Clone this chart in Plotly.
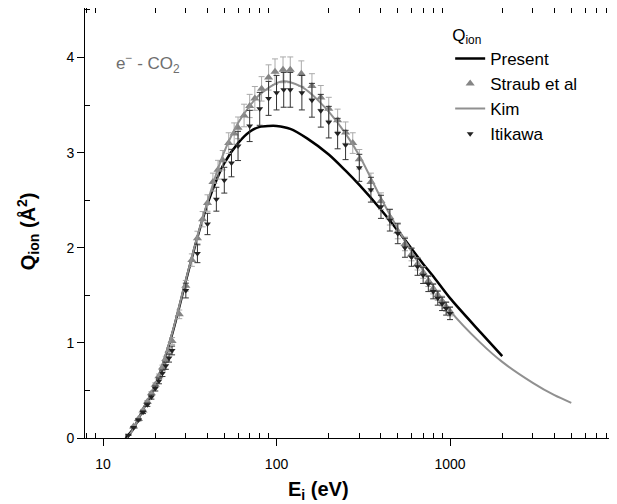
import plotly.graph_objects as go

# Present calculation
present_e = [13.5, 15, 17, 20, 25, 30, 35, 40, 45, 50, 60, 70, 80, 90, 100, 120, 150, 200,
             250, 300, 400, 500, 600, 700, 800, 1000, 1500, 2000]
present_q = [0.0, 0.1, 0.3, 0.55, 1.09, 1.65, 2.11, 2.46, 2.71, 2.89, 3.1, 3.22, 3.27, 3.28, 3.28,
             3.25, 3.15, 2.98, 2.81, 2.66, 2.40, 2.18, 1.99, 1.83, 1.70, 1.47, 1.11, 0.86]

# Kim (BEB)
kim_e = [13.8, 15, 17, 20, 25, 30, 35, 40, 45, 50, 60, 70, 80, 90, 100, 110, 120, 140, 160, 180,
         200, 250, 300, 400, 500, 600, 700, 800, 900, 1000, 1500, 2000, 3000, 4000, 5000]
kim_q = [0.0, 0.1, 0.3, 0.56, 1.1, 1.66, 2.12, 2.48, 2.78, 3.01, 3.31, 3.49, 3.61, 3.68, 3.73, 3.75,
         3.74, 3.69, 3.61, 3.52, 3.43, 3.2, 2.97, 2.52, 2.2, 1.96, 1.76, 1.6, 1.46, 1.34, 1.0, 0.8,
         0.58, 0.45, 0.37]

# Straub et al
straub_e = [15, 16, 17, 18, 19, 20, 21, 22, 23, 24, 25, 27.5, 30, 32.5, 35, 37.5, 40, 43, 46, 49,
            53, 57, 60, 65, 70, 75, 82, 90, 98, 109, 120, 139, 160, 180, 200, 225, 250, 275, 300,
            350, 400, 450, 500, 550, 600, 650, 700, 750, 800, 850, 900, 950, 1000]
straub_q = [0.12, 0.2, 0.29, 0.38, 0.47, 0.56, 0.65, 0.74, 0.83, 0.92, 1.02, 1.3, 1.6, 1.87, 2.1,
            2.3, 2.47, 2.69, 2.82, 2.92, 3.1, 3.2, 3.26, 3.39, 3.49, 3.57, 3.67, 3.79, 3.85, 3.87,
            3.87, 3.83, 3.7, 3.58, 3.46, 3.34, 3.21, 3.1, 2.93, 2.69, 2.49, 2.32, 2.17, 2.04, 1.93,
            1.83, 1.74, 1.65, 1.57, 1.5, 1.44, 1.38, 1.33]

# Itikawa
itikawa_e = [14, 15, 16, 17, 18, 19, 20, 21, 22, 23, 24, 25, 30, 35, 40, 45, 50, 55, 60, 70, 80,
             90, 100, 110, 120, 140, 160, 180, 200, 225, 250, 300, 350, 400, 450, 500, 550, 600,
             650, 700, 750, 800, 850, 900, 950, 1000]
itikawa_q = [0.03, 0.11, 0.19, 0.27, 0.35, 0.43, 0.52, 0.6, 0.68, 0.76, 0.84, 0.92, 1.55, 1.94,
             2.25, 2.51, 2.71, 2.89, 3.07, 3.28, 3.46, 3.57, 3.63, 3.66, 3.66, 3.63, 3.55, 3.44,
             3.32, 3.2, 3.08, 2.84, 2.61, 2.43, 2.29, 2.15, 2.0, 1.9, 1.8, 1.71, 1.62, 1.54, 1.47,
             1.41, 1.36, 1.31]

straub_err = [0.035 * q for q in straub_q]
itikawa_err = [0.05 * q for q in itikawa_q]

FONT = "Arial, Liberation Sans, sans-serif"

fig = go.Figure()

fig.add_trace(go.Scatter(
    x=present_e, y=present_q, mode='lines', name='Present',
    line=dict(color='black', width=2.5, shape='spline', smoothing=0.8),
))
fig.add_trace(go.Scatter(
    x=straub_e, y=straub_q, mode='markers', name='Straub et al',
    marker=dict(symbol='triangle-up', size=8, color='#858585'),
    error_y=dict(type='data', array=straub_err, color='#aaaaaa', thickness=1, width=3),
))
fig.add_trace(go.Scatter(
    x=kim_e, y=kim_q, mode='lines', name='Kim',
    line=dict(color='#909090', width=2, shape='spline', smoothing=0.8),
))
fig.add_trace(go.Scatter(
    x=itikawa_e, y=itikawa_q, mode='markers', name='Itikawa',
    marker=dict(symbol='triangle-down', size=6, color='#222222'),
    error_y=dict(type='data', array=itikawa_err, color='#333333', thickness=1, width=3),
))

axis_common = dict(
    showline=True, linecolor='black', linewidth=1, mirror='ticks',
    ticks='outside', ticklen=7, tickwidth=1, tickcolor='black',
    showgrid=False, zeroline=False, automargin=False,
    tickfont=dict(family=FONT, size=14, color='black'),
)

fig.update_xaxes(
    type='log', range=[0.896, 3.951],
    tickvals=[10, 100, 1000], ticktext=['10', '100', '1000'],
    minor=dict(ticks='inside', ticklen=5, tickcolor='black', tickwidth=1,
               tickvals=[8, 9, 20, 30, 40, 50, 60, 70, 80, 90, 200, 300, 400, 500, 600, 700, 800, 900,
                         2000, 3000, 4000, 5000, 6000, 7000, 8000]),
    ticklabelstandoff=6,
    **axis_common,
)
fig.update_yaxes(
    range=[0, 4.52], tickvals=[0, 1, 2, 3, 4],
    minor=dict(ticks='inside', ticklen=5, tickcolor='black', tickwidth=1,
               tickvals=[0.5, 1.5, 2.5, 3.5, 4.5]),
    ticklabelstandoff=0,
    **axis_common,
)

fig.add_annotation(
    text="e<sup>−</sup> - CO<sub>2</sub>", xref='paper', yref='paper', x=0.055, y=0.87,
    xanchor='left', yanchor='middle', showarrow=False,
    font=dict(family=FONT, size=17, color='#6e6e6e'),
)
fig.add_annotation(
    text="<b>Q<sub>ion</sub> (Å<sup>2</sup>)</b>", xref='paper', yref='paper', x=-0.1075, y=0.481,
    textangle=-90, showarrow=False, xanchor='center', yanchor='middle',
    font=dict(family=FONT, size=20, color='black'),
)
fig.add_annotation(
    text="<b>E<sub>i</sub> (eV)</b>", xref='paper', yref='paper', x=0.44, y=-0.121,
    showarrow=False, xanchor='center', yanchor='middle',
    font=dict(family=FONT, size=20, color='black'),
)

# the page body has an 8px margin, so the figure is 8px smaller than the window
fig.update_layout(
    width=609, height=496,
    margin=dict(l=77, r=2, t=0, b=66),
    paper_bgcolor='white', plot_bgcolor='white',
    showlegend=True,
    legend=dict(
        title=dict(text="Q<sub>ion</sub>", font=dict(family=FONT, size=17, color='black')),
        font=dict(family=FONT, size=17, color='black'),
        x=0.689, y=0.975, xanchor='left', yanchor='top',
        bgcolor='rgba(0,0,0,0)', tracegroupgap=0,
    ),
)

fig.write_html("out.html")
